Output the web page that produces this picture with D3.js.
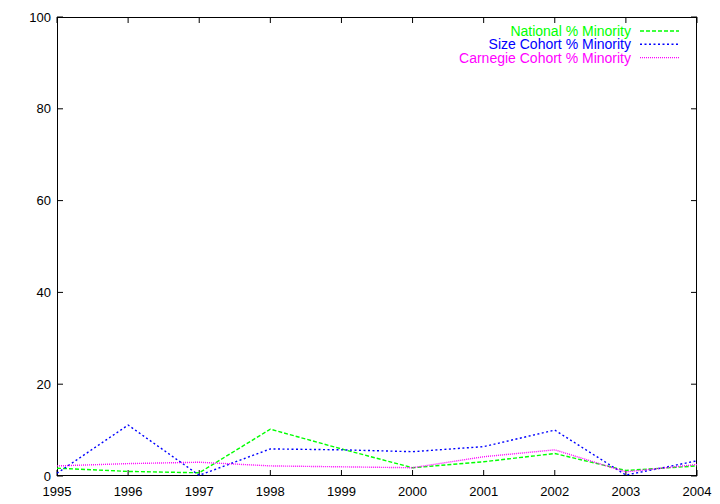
<!DOCTYPE html>
<html><head><meta charset="utf-8">
<script src="https://cdn.jsdelivr.net/npm/d3@7"></script>
<style>body{margin:0;background:#fff}svg{display:block}text{font-family:"Liberation Sans",Arial,sans-serif;font-size:14px}.tl{font-size:13px}</style>
</head><body><svg id="c" width="720" height="504"></svg>
<script>
const years = [1995,1996,1997,1998,1999,2000,2001,2002,2003,2004];
const national = [1.7,1.0,0.7,10.2,5.9,1.8,3.1,4.9,1.2,2.2];
const sizeCohort = [0.6,11.1,0.15,5.9,5.7,5.3,6.4,10.0,0.2,3.3];
const carnegie = [2.2,2.7,3.0,2.2,2.0,1.8,4.2,5.7,0.9,2.5];
const yTicks = [0,20,40,60,80,100];
const seriesNames = ["National % Minority","Size Cohort % Minority","Carnegie Cohort % Minority"];

const svg = d3.select("#c");
const L=57,R=697,T=17,B=476;
const x = d3.scaleLinear().domain([1995,2004]).range([L,R]);
const y = d3.scaleLinear().domain([0,100]).range([B,T]);

const tk=6;
const g = svg.append("g");
years.forEach(v=>{
  g.append("line").attr("x1",x(v)).attr("x2",x(v)).attr("y1",B).attr("y2",B-tk).attr("stroke","#000");
  g.append("line").attr("x1",x(v)).attr("x2",x(v)).attr("y1",T).attr("y2",T+tk).attr("stroke","#000");
  g.append("text").attr("class","tl").attr("x",x(v)).attr("y",B+20).attr("text-anchor","middle").text(v);
});
yTicks.forEach(v=>{
  g.append("line").attr("x1",L).attr("x2",L+tk).attr("y1",y(v)).attr("y2",y(v)).attr("stroke","#000");
  g.append("line").attr("x1",R).attr("x2",R-tk).attr("y1",y(v)).attr("y2",y(v)).attr("stroke","#000");
  g.append("text").attr("class","tl").attr("x",L-6).attr("y",y(v)+4.5).attr("text-anchor","end").text(v);
});
svg.append("rect").attr("x",L+0.5).attr("y",T+0.5).attr("width",R-L-1).attr("height",B-T-1)
  .attr("fill","none").attr("stroke","#000");

const line = d3.line().x((d,i)=>x(years[i])).y(d=>y(d));
const series = [
  {name:seriesNames[0],vals:national,color:"#00ff00",dash:"4,2"},
  {name:seriesNames[1],vals:sizeCohort,color:"#0000ff",dash:"2,2.5"},
  {name:seriesNames[2],vals:carnegie,color:"#ff00ff",dash:"1,1"}
];
series.forEach((s,i)=>{
  svg.append("path").attr("d",line(s.vals)).attr("fill","none").attr("stroke",s.color)
    .attr("stroke-width",1.4).attr("stroke-dasharray",s.dash);
  const ly = 31 + i*13.3;
  svg.append("text").attr("x",631).attr("y",ly+5).attr("text-anchor","end").attr("fill",s.color).text(s.name);
  svg.append("line").attr("x1",640).attr("x2",679).attr("y1",ly).attr("y2",ly)
    .attr("stroke",s.color).attr("stroke-width",1.4).attr("stroke-dasharray",s.dash);
});
</script></body></html>
